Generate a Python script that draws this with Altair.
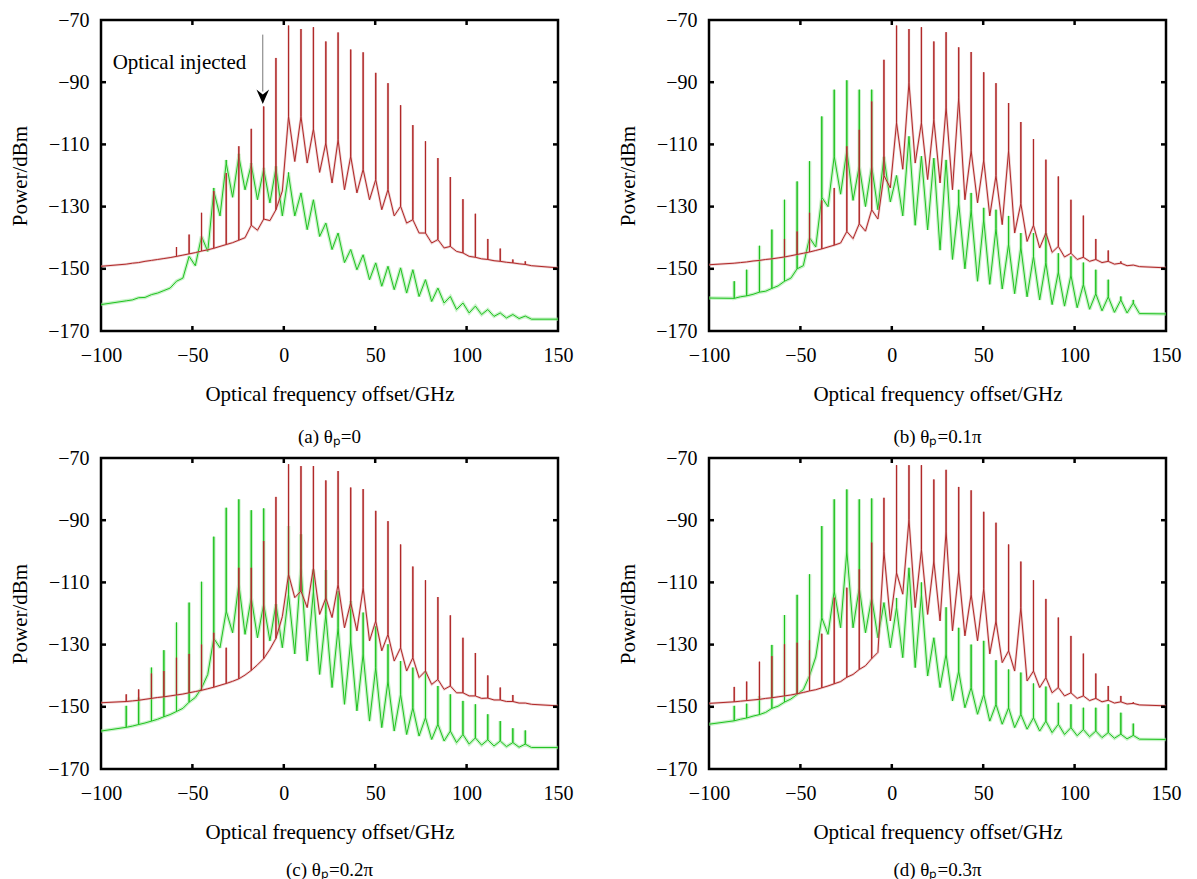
import altair as alt
import pandas as pd

# ---------------- data ----------------
comb_ghz = [-86.2, -79.4, -72.4, -65.6, -58.7, -51.8, -45.0, -38.3, -31.5, -24.6, -17.8,
            -11.0, -4.3, 2.6, 9.4, 16.2, 23.0, 29.7, 36.6, 43.4, 50.3, 57.0, 63.9, 70.6,
            77.5, 84.3, 91.1, 98.0, 104.8, 111.6, 118.4, 125.3, 132.1]
valley_ghz = [-82.8, -75.9, -69.0, -62.2, -55.2, -48.4, -41.6, -34.9, -28.0, -21.2, -14.4,
              -7.6, -0.8, 6.0, 12.8, 19.6, 26.4, 33.2, 40.0, 46.9, 53.6, 60.4, 67.2, 74.0,
              80.9, 87.7, 94.5, 101.4, 108.2, 115.0, 121.8, 128.7, 135.5]
edge_ghz = [-100, 150]

# panel (a) theta_p = 0
a_red_edges = [-149.2, -149.7]
a_red_peak = [-148.5, -148.0, -147.3, -146.7, -143.0, -139.0, -132.0, -125.0, -119.2, -110.6, -105.0,
              -97.8, -82.2, -71.8, -72.9, -72.3, -76.9, -74.0, -79.5, -80.4, -87.0, -90.3, -97.4, -103.8,
              -109.0, -114.4, -120.5, -127.6, -132.3, -140.4, -143.5, -147.0, -147.6]
a_red_cusp = [-148.5, -148.0, -147.3, -146.7, -146.0, -145.2, -144.3, -143.4, -142.2, -140.8, -136.0,
              -134.0, -131.0, -101.0, -101.0, -105.0, -109.5, -108.5, -113.8, -118.0, -121.3, -124.5, -129.9, -134.2,
              -138.5, -140.6, -142.8, -144.9, -146.3, -147.0, -147.6, -148.1, -148.6]
a_red_valley = [-148.2, -147.6, -147.0, -146.4, -145.6, -144.8, -143.9, -142.8, -141.6, -140.0, -137.6,
                -134.5, -125.0, -115.5, -116.0, -119.0, -122.4, -124.6, -125.6, -127.8, -131.0, -133.0, -135.3, -138.5,
                -141.7, -143.3, -144.4, -146.0, -146.8, -147.4, -147.9, -148.4, -149.0]
a_grn_edges = [-161.5, -166.2]
a_grn_peak = [-160.3, -159.3, -158.3, -157.0, -154.0, -146.0, -139.6, -124.0, -115.0, -113.0, -116.0,
              -117.5, -117.0, -119.0, -125.6, -127.8, -135.3, -138.5, -143.8, -145.5, -148.1, -149.2, -149.7, -150.3,
              -153.5, -156.2, -158.9, -161.0, -162.0, -163.1, -164.2, -164.7, -165.2]
a_grn_cusp = [-160.3, -159.3, -158.3, -157.0, -154.0, -146.0, -139.6, -125.0, -116.0, -113.8, -116.5,
              -118.0, -117.6, -119.7, -125.6, -127.8, -135.3, -138.5, -143.8, -145.5, -148.1, -149.2, -149.7, -150.3,
              -153.5, -156.2, -158.9, -161.0, -162.0, -163.1, -164.2, -164.7, -165.2]
a_grn_valley = [-160.0, -159.2, -157.8, -156.2, -153.0, -149.0, -144.4, -133.0, -127.0, -124.6, -127.8,
                -128.8, -133.0, -133.0, -137.4, -139.6, -143.8, -148.0, -150.3, -153.5, -155.6, -156.7, -157.8, -158.9,
                -160.5, -161.0, -163.1, -164.2, -164.7, -165.3, -165.8, -166.0, -166.2]

# panel (b) theta_p = 0.1 pi
b_red_edges = [-148.7, -149.7]
b_red_peak = [-148.2, -147.8, -147.3, -146.8, -140.4, -138.0, -132.0, -128.0, -124.0, -110.6, -105.3,
              -96.2, -82.8, -71.8, -72.9, -72.3, -76.9, -73.9, -78.8, -80.3, -86.8, -90.3, -96.7, -102.8,
              -108.3, -114.9, -120.3, -127.8, -132.9, -140.4, -144.1, -147.6, -148.8]
b_red_cusp = [-148.2, -147.8, -147.3, -146.8, -146.2, -145.4, -144.6, -143.6, -142.4, -138.0, -135.5,
              -131.0, -120.0, -103.0, -90.0, -103.0, -102.0, -98.0, -95.0, -112.0, -115.0, -120.0, -112.0, -129.0,
              -136.0, -138.5, -142.8, -145.0, -146.3, -147.0, -147.6, -148.2, -148.8]
b_red_valley = [-148.0, -147.5, -147.0, -146.5, -145.8, -145.0, -144.1, -143.0, -141.7, -140.3, -137.9,
                -134.0, -124.0, -118.0, -116.0, -121.3, -122.4, -124.6, -127.8, -128.8, -133.0, -135.8, -138.5, -141.2,
                -143.3, -144.7, -146.2, -147.0, -147.6, -148.0, -148.5, -149.0, -149.3]
b_grn_edges = [-159.4, -164.5]
b_grn_peak = [-154.0, -150.3, -142.6, -137.4, -127.8, -121.9, -115.4, -101.0, -92.4, -89.4, -92.4,
              -92.4, -114.0, -120.0, -107.4, -113.8, -114.4, -115.0, -124.6, -125.6, -130.4, -131.0, -133.0, -138.5,
              -138.5, -138.5, -145.0, -146.0, -148.0, -150.3, -153.5, -158.9, -160.0]
b_grn_cusp = [-159.5, -158.7, -157.5, -156.3, -154.0, -150.0, -140.0, -127.0, -113.8, -112.0, -117.0,
              -117.0, -114.0, -120.0, -107.4, -113.8, -114.4, -115.0, -128.8, -131.0, -134.0, -137.0, -142.0, -143.0,
              -146.0, -148.0, -151.0, -152.0, -155.0, -158.0, -159.0, -160.0, -161.0]
b_grn_valley = [-159.0, -158.2, -157.2, -155.5, -153.0, -149.0, -143.0, -130.0, -126.0, -128.0, -130.0,
                -131.0, -128.5, -133.0, -136.0, -137.5, -144.0, -147.0, -150.0, -154.0, -155.0, -156.5, -158.0, -159.0,
                -160.0, -161.5, -162.0, -162.5, -163.0, -163.5, -164.0, -164.2, -164.4]

# panel (c) theta_p = 0.2 pi
c_red_edges = [-148.7, -149.7]
c_red_peak = [-146.0, -144.4, -139.3, -138.5, -134.2, -133.0, -130.0, -126.2, -131.0, -105.3, -105.3,
              -96.7, -82.5, -72.0, -72.6, -72.6, -77.2, -74.2, -79.5, -80.0, -87.0, -90.3, -97.8, -104.9,
              -109.3, -114.7, -120.6, -127.8, -132.7, -139.9, -143.8, -146.2, -148.8]
c_red_cusp = [-148.3, -147.9, -147.3, -146.8, -146.2, -145.5, -144.7, -143.7, -142.5, -141.0, -138.3,
              -134.5, -128.0, -107.4, -112.8, -105.3, -115.0, -110.6, -116.5, -111.7, -122.4, -126.7, -131.0, -134.2,
              -138.5, -141.2, -143.3, -145.5, -146.5, -147.2, -147.8, -148.3, -148.8]
c_red_valley = [-148.1, -147.6, -147.0, -146.5, -145.9, -145.1, -144.2, -143.1, -141.8, -139.8, -136.5,
                -131.5, -121.0, -114.9, -118.1, -120.3, -121.3, -124.6, -125.6, -128.8, -132.0, -135.3, -138.5, -140.6,
                -142.8, -144.4, -145.5, -146.5, -147.3, -147.8, -148.3, -148.8, -149.2]
c_grn_edges = [-157.8, -163.1]
c_grn_peak = [-149.7, -147.0, -137.4, -131.8, -122.9, -116.5, -109.8, -95.3, -86.0, -83.3, -86.8,
              -86.2, -117.0, -91.9, -94.5, -105.8, -106.0, -112.8, -116.0, -119.7, -124.0, -129.9, -135.3, -137.4,
              -138.5, -143.3, -146.0, -148.1, -149.2, -152.4, -154.6, -156.9, -157.6]
c_grn_cusp = [-156.6, -155.7, -154.6, -153.2, -151.5, -148.5, -144.0, -128.0, -119.2, -110.6, -114.9,
              -117.0, -117.0, -113.8, -105.3, -112.8, -120.3, -124.6, -128.8, -133.0, -137.4, -141.7, -146.0, -150.3,
              -153.5, -155.6, -157.8, -158.9, -160.0, -160.6, -161.0, -161.5, -162.0]
c_grn_valley = [-156.2, -155.2, -154.0, -152.5, -150.5, -147.0, -139.6, -131.0, -126.2, -126.7, -127.8,
                -128.8, -131.0, -133.0, -135.3, -139.6, -143.8, -149.2, -151.3, -154.6, -156.7, -157.8, -158.9, -159.4,
                -160.5, -161.0, -161.5, -162.0, -162.3, -162.6, -162.8, -163.0, -163.1]

# panel (d) theta_p = 0.3 pi
d_red_edges = [-148.9, -149.7]
d_red_peak = [-143.6, -141.9, -135.5, -133.7, -129.9, -129.4, -128.6, -126.5, -114.9, -111.7, -105.8,
              -97.2, -82.8, -72.3, -72.3, -72.3, -76.9, -73.8, -79.3, -80.4, -87.3, -90.8, -97.8, -103.3,
              -109.3, -115.3, -121.3, -127.2, -132.9, -139.3, -143.3, -146.5, -148.5]
d_red_cusp = [-148.4, -148.0, -147.6, -147.1, -146.5, -145.8, -144.9, -143.9, -142.6, -140.5, -138.0,
              -134.5, -100.0, -106.9, -89.7, -99.4, -103.1, -93.5, -106.3, -113.8, -112.0, -122.4, -132.0, -118.1,
              -138.5, -140.6, -143.8, -145.5, -146.5, -147.3, -147.9, -148.4, -148.9]
d_red_valley = [-148.2, -147.8, -147.3, -146.8, -146.2, -145.4, -144.5, -143.3, -141.9, -139.6, -136.8,
                -132.5, -122.4, -113.8, -118.1, -120.3, -122.4, -125.6, -127.2, -128.8, -133.0, -135.8, -138.5, -141.7,
                -143.8, -145.5, -146.5, -147.3, -148.0, -148.4, -148.8, -149.1, -149.4]
d_grn_edges = [-155.6, -160.5]
d_grn_peak = [-149.7, -149.0, -146.5, -130.1, -120.5, -114.0, -107.4, -91.9, -83.3, -80.1, -83.3,
              -83.0, -116.5, -115.0, -105.3, -110.0, -127.8, -118.0, -124.6, -130.0, -128.8, -135.0, -138.0, -139.0,
              -142.5, -143.5, -148.7, -149.2, -150.3, -150.3, -149.2, -151.9, -155.4]
d_grn_cusp = [-154.5, -153.6, -152.5, -150.5, -148.5, -146.0, -140.0, -121.3, -112.8, -99.9, -111.7,
              -114.9, -116.5, -118.0, -105.3, -113.8, -127.8, -133.0, -138.5, -143.8, -146.0, -149.2, -150.3, -152.4,
              -153.5, -154.6, -155.6, -156.7, -157.3, -157.8, -158.3, -158.8, -159.2]
d_grn_valley = [-154.0, -153.0, -151.8, -149.8, -147.5, -144.5, -134.0, -126.7, -124.6, -124.6, -126.2,
                -127.8, -131.0, -134.2, -137.4, -140.1, -143.8, -148.1, -150.3, -152.4, -154.6, -155.6, -156.7, -157.2,
                -157.8, -158.3, -158.9, -159.3, -159.6, -159.9, -160.1, -160.3, -160.4]

captions = ["(a) θₚ=0", "(b) θₚ=0.1π", "(c) θₚ=0.2π", "(d) θₚ=0.3π"]
x_ticks = [-100, -50, 0, 50, 100, 150]
y_ticks = [-170, -150, -130, -110, -90, -70]
inner_x_ticks = [-50, 0, 50, 100]
inner_y_ticks = [-150, -130, -110, -90]

# annotation in panel (a)
note_text = ["Optical injected"]
note_x = [-93.6]
note_y = [-83.8]
arrow_x = [-11.5]
arrow_top = [-74.7]
arrow_bottom = [-93.0]
arrow_head = [-95.0]

# ---------------- build ----------------
W, H = 457, 311
FONT = "Liberation Serif"
RED = "#b02828"
RED_HALO = "#dca0a0"
GREEN = "#1fc21f"
GREEN_HALO = "#9ae89a"


def spectrum(edges, peak, cusp, valley):
    rows = [(edge_ghz[0], edges[0])]
    for f, pk, cu, fv, v in zip(comb_ghz, peak, cusp, valley_ghz, valley):
        rows += [(f, cu), (f, pk), (f, cu), (fv, v)]
    rows.append((edge_ghz[1], edges[1]))
    return pd.DataFrame({"f": [r[0] for r in rows], "p": [r[1] for r in rows],
                         "i": list(range(len(rows)))})


xscale = alt.Scale(domain=[-100, 150], nice=False, zero=False)
yscale = alt.Scale(domain=[-170, -70], nice=False, zero=False)


def panel(red, grn, caption, cap_offset, note=False):
    xenc = alt.X("f:Q", scale=xscale,
                 axis=alt.Axis(values=x_ticks, title="Optical frequency offset/GHz", format="d"))
    yenc = alt.Y("p:Q", scale=yscale,
                 axis=alt.Axis(values=y_ticks, title="Power/dBm", format="d"))
    gdf = spectrum(*grn)
    rdf = spectrum(*red)
    gh = alt.Chart(gdf).mark_line(color=GREEN_HALO, strokeWidth=3.5, opacity=0.55, clip=True,
                                  strokeJoin="miter", strokeMiterLimit=2).encode(
        x=xenc, y=yenc, order="i:Q")
    g = alt.Chart(gdf).mark_line(color=GREEN, strokeWidth=1, clip=True).encode(
        x=alt.X("f:Q", scale=xscale), y=alt.Y("p:Q", scale=yscale), order="i:Q")
    rh = alt.Chart(rdf).mark_line(color=RED_HALO, strokeWidth=2.5, opacity=0.5, clip=True,
                                  strokeJoin="miter", strokeMiterLimit=2).encode(
        x=alt.X("f:Q", scale=xscale), y=alt.Y("p:Q", scale=yscale), order="i:Q")
    r = alt.Chart(rdf).mark_line(color=RED, strokeWidth=1, clip=True).encode(
        x=alt.X("f:Q", scale=xscale), y=alt.Y("p:Q", scale=yscale), order="i:Q")
    xt = pd.DataFrame({"t": inner_x_ticks})
    yt = pd.DataFrame({"t": inner_y_ticks})
    tb = alt.Chart(xt).mark_rule(color="black", strokeWidth=2.5).encode(
        x=alt.X("t:Q", scale=xscale), y=alt.value(H), y2=alt.value(H - 5))
    tt = alt.Chart(xt).mark_rule(color="black", strokeWidth=2.5).encode(
        x=alt.X("t:Q", scale=xscale), y=alt.value(0), y2=alt.value(5))
    tl = alt.Chart(yt).mark_rule(color="black", strokeWidth=2.5).encode(
        y=alt.Y("t:Q", scale=yscale), x=alt.value(0), x2=alt.value(5))
    tr = alt.Chart(yt).mark_rule(color="black", strokeWidth=2.5).encode(
        y=alt.Y("t:Q", scale=yscale), x=alt.value(W), x2=alt.value(W - 5))
    layers = [gh, g, rh, r, tb, tt, tl, tr]
    if note:
        nd = pd.DataFrame({"x": note_x, "y": note_y, "s": note_text})
        layers.append(alt.Chart(nd).mark_text(font=FONT, fontSize=21, align="left",
                                              baseline="middle", color="black").encode(
            x=alt.X("x:Q", scale=xscale), y=alt.Y("y:Q", scale=yscale), text="s:N"))
        ad = pd.DataFrame({"x": arrow_x, "y": arrow_top, "y2": arrow_bottom, "h": arrow_head})
        layers.append(alt.Chart(ad).mark_rule(color="#777777", strokeWidth=1).encode(
            x=alt.X("x:Q", scale=xscale), y=alt.Y("y:Q", scale=yscale), y2="y2:Q"))
        layers.append(alt.Chart(ad).mark_point(
            shape="M-1,-1.3L0,1L1,-1.3L0,-0.5Z", filled=True, color="black", opacity=1,
            size=160).encode(x=alt.X("x:Q", scale=xscale), y=alt.Y("h:Q", scale=yscale)))
    return alt.layer(*layers).properties(
        width=W, height=H,
        title=alt.TitleParams(caption, orient="bottom", anchor="middle", font=FONT,
                              fontSize=19, fontWeight="normal", offset=cap_offset, color="black"))


pa = panel((a_red_edges, a_red_peak, a_red_cusp, a_red_valley),
           (a_grn_edges, a_grn_peak, a_grn_cusp, a_grn_valley), captions[0], 24, note=True)
pb = panel((b_red_edges, b_red_peak, b_red_cusp, b_red_valley),
           (b_grn_edges, b_grn_peak, b_grn_cusp, b_grn_valley), captions[1], 24)
pc = panel((c_red_edges, c_red_peak, c_red_cusp, c_red_valley),
           (c_grn_edges, c_grn_peak, c_grn_cusp, c_grn_valley), captions[2], 19)
pd_ = panel((d_red_edges, d_red_peak, d_red_cusp, d_red_valley),
            (d_grn_edges, d_grn_peak, d_grn_cusp, d_grn_valley), captions[3], 19)

chart = alt.concat(pa, pb, pc, pd_, columns=2, spacing={"row": 127, "column": 151},
                   bounds="flush").properties(padding=0).configure_view(
    stroke="black", strokeWidth=2.5
).configure_axis(
    grid=False, ticks=False, domain=False, labelFlush=False,
    labelFont=FONT, labelFontSize=20, labelColor="black", labelPadding=12,
    titleFont=FONT, titleFontSize=21, titleFontWeight="normal", titleColor="black",
).configure_axisX(labelPadding=14, titlePadding=18).configure_axisY(titlePadding=17)

chart.save("out.html", embed_options={"renderer": "svg", "actions": False})
